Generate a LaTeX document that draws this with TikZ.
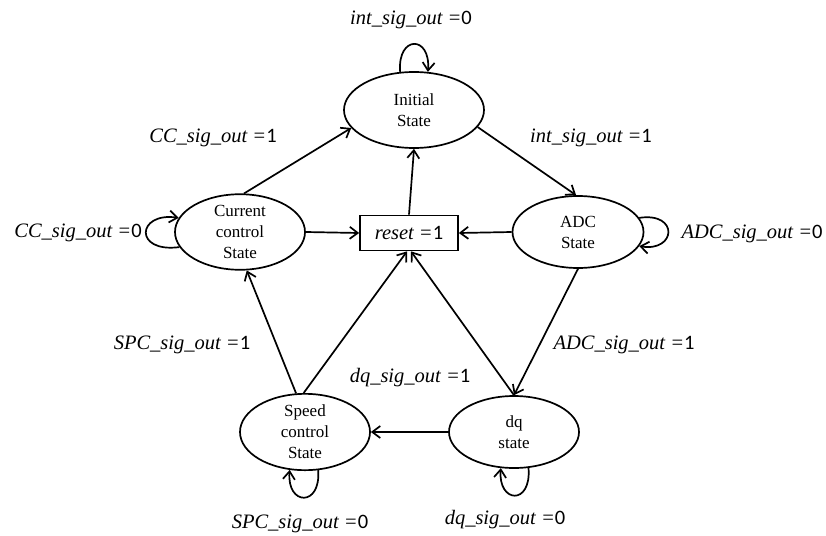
\documentclass[tikz,border=0pt]{standalone}
\usepackage{fontspec}
\setmainfont{Liberation Serif}
\newfontfamily\digfont{Carlito}
\usetikzlibrary{shapes.geometric,arrows.meta}
\begin{document}
\begin{tikzpicture}[x=1pt,y=-1pt,
  state/.style={ellipse,draw,line width=1.7pt,minimum width=130pt,minimum height=72pt,inner sep=0pt,align=center,font=\fontsize{17}{21}\selectfont},
  arr/.style={-{Straight Barb[length=8pt,width=12pt,line width=1.7pt]},line width=1.7pt},
  lbl/.style={font=\fontsize{20.5}{24}\selectfont\itshape,inner sep=0pt}]
\useasboundingbox (0,0) rectangle (826,535);
\newcommand\lab[2]{#1 ={\upshape\digfont #2}}

\node[state,minimum width=140pt,minimum height=76pt] (init) at (414,110) {Initial\\State};
\node[state] (cc) at (240,232) {Current\\control\\State};
\node[state,minimum width=131pt] (adc) at (578,232) {ADC\\State};
\node[state] (spc) at (305,432) {Speed\\control\\State};
\node[state] (dq) at (514,432) {dq\\state};
\node[draw,line width=1.7pt,minimum width=98pt,minimum height=35pt,inner sep=0pt,font=\fontsize{20.5}{24}\selectfont\itshape] (reset) at (409,233) {\lab{reset}{1}};

% edges
\draw[arr] (cc.84) -- (init.196);
\draw[arr] (init.-15) -- (adc.93);
\draw[arr] (cc.east) -- (reset.west);
\draw[arr] (adc.west) -- (reset.east);
\draw[arr] (reset.north) -- (init.south);
\draw[arr] (spc.103) -- (cc.-80);
\draw[arr] (spc.92) -- ([xshift=-2pt]reset.south);
\draw[arr] (dq.north) -- ([xshift=2pt]reset.south);
\draw[arr] (adc.south) -- (dq.north);
\draw[arr] (dq.west) -- (spc.east);

% self loops
\draw[arr] (init.110) .. controls +(-3,-37) and +(3,-37) .. (init.70);
\draw[arr] (cc.194) .. controls +(-46,6) and +(-42,-6) .. (cc.167);
\draw[arr] (adc.13) .. controls +(40,-6) and +(37,6) .. (adc.-13);
\draw[arr] (spc.-71) .. controls +(3,37) and +(-3,36) .. (spc.-112);
\draw[arr] (dq.-68) .. controls +(3,38) and +(-3,35) .. (dq.-110);

% labels
\node[lbl] (l1) at (411,20) {\lab{int\_sig\_out}{0}};
\node[lbl] (l2) at (213,138) {\lab{CC\_sig\_out}{1}};
\node[lbl] (l3) at (591,138) {\lab{int\_sig\_out}{1}};
\node[lbl] (l4) at (78,233) {\lab{CC\_sig\_out}{0}};
\node[lbl] (l5) at (752,234) {\lab{ADC\_sig\_out}{0}};
\node[lbl] (l6) at (182,345) {\lab{SPC\_sig\_out}{1}};
\node[lbl] (l7) at (624,345) {\lab{ADC\_sig\_out}{1}};
\node[lbl] (l8) at (410,378) {\lab{dq\_sig\_out}{1}};
\node[lbl] (l9) at (300,524) {\lab{SPC\_sig\_out}{0}};
\node[lbl] (l10) at (505,520) {\lab{dq\_sig\_out}{0}};
\end{tikzpicture}
\end{document}
